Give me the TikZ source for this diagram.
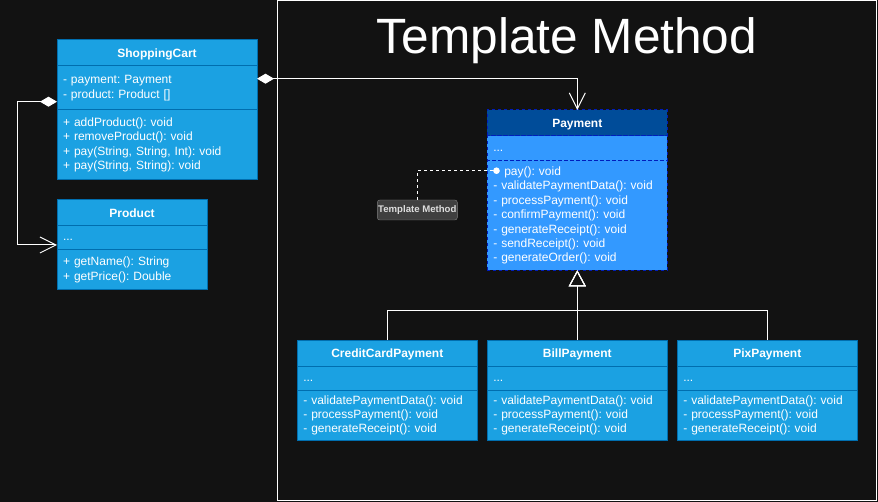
\documentclass[tikz,border=0pt]{standalone}
\usepackage{fontspec}
\setmainfont{Liberation Sans}
\usetikzlibrary{positioning,arrows.meta}
\frenchspacing

\definecolor{bgdark}{HTML}{121212}
\definecolor{umlblue}{HTML}{1BA1E2}
\definecolor{umlline}{HTML}{006EAF}
\definecolor{payhead}{HTML}{004C99}
\definecolor{paybody}{HTML}{3399FF}
\definecolor{payline}{HTML}{001DBC}
\definecolor{notefill}{HTML}{404040}
\definecolor{noteline}{HTML}{808080}
\definecolor{notetext}{HTML}{DDDDDD}

\tikzset{
  umlhead/.style={draw=umlline, fill=umlblue, text=white, line width=1pt,
    font=\fontsize{12}{14.4}\selectfont\bfseries, inner sep=0pt, outer sep=0pt,
    minimum height=26pt, text height=8.6pt, text depth=0pt},
  umlpart/.style={draw=umlline, fill=umlblue, text=white, line width=1pt,
    font=\fontsize{12}{14.4}\selectfont, align=left, inner xsep=6pt,
    inner ysep=0pt, outer sep=0pt},
  abshead/.style={umlhead, draw=payline, fill=payhead, dashed},
  abspart/.style={umlpart, draw=payline, fill=paybody, dashed},
  notebox/.style={draw=noteline, fill=notefill, text=notetext, rounded corners=2.5pt,
    font=\fontsize{9.6}{10}\selectfont\bfseries, minimum width=80pt,
    minimum height=20pt, inner sep=0pt},
  link/.style={draw=white, line width=1pt},
  aggr/.style={link, {Diamond[length=17pt,width=10pt]}-{Straight Barb[length=16pt,width=16pt]}},
  inherit/.style={link, -{Triangle[open,length=16pt,width=17pt]}},
  hint/.style={link, dash pattern=on 3pt off 3pt, -{Circle[length=6.5pt]}}
}

\begin{document}
\begin{tikzpicture}[x=1pt, y=-1pt]
  \fill[bgdark] (0,0) rectangle (878,502);
  \useasboundingbox (0,0) rectangle (878,502);
  \draw[white, line width=1pt] (277.2,1) rectangle (876,500);
  \node (title) [text=white, font=\fontsize{49.6}{50}\selectfont, anchor=base] at (567,53.3) {Template Method};

  % client side
  \node (cart) [umlhead, minimum width=200pt, anchor=north west] at (57,40) {ShoppingCart};
  \node (cartAttr) [umlpart, text width=188pt, minimum height=44pt, below=0pt of cart]
    {- payment: Payment\\- product: Product []};
  \node (cartMeth) [umlpart, text width=188pt, minimum height=70pt, below=0pt of cartAttr]
    {+ addProduct(): void\\+ removeProduct(): void\\+ pay(String, String, Int): void\\+ pay(String, String): void};

  \node (prod) [umlhead, minimum width=150pt, anchor=north west] at (57,200) {Product};
  \node (prodAttr) [umlpart, text width=138pt, minimum height=24pt, below=0pt of prod] {\strut...};
  \node (prodMeth) [umlpart, text width=138pt, minimum height=40pt, below=0pt of prodAttr]
    {+ getName(): String\\+ getPrice(): Double};

  % abstract class
  \node (pay) [abshead, minimum width=180pt, anchor=north west] at (487.3,110) {Payment};
  \node (payAttr) [abspart, text width=168pt, minimum height=24.7pt, below=0pt of pay] {\strut...};
  \node (payMeth) [abspart, text width=168pt, minimum height=109.6pt, below=0pt of payAttr]
    {+ pay(): void\\- validatePaymentData(): void\\- processPayment(): void\\- confirmPayment(): void\\- generateReceipt(): void\\- sendReceipt(): void\\- generateOrder(): void};

  % concrete classes
  \node (credit) [umlhead, minimum width=180pt, anchor=north west] at (297.3,340.3) {CreditCardPayment};
  \node (creditAttr) [umlpart, text width=168pt, minimum height=24pt, below=0pt of credit] {\strut...};
  \node (creditMeth) [umlpart, text width=168pt, minimum height=50pt, below=0pt of creditAttr]
    {- validatePaymentData(): void\\- processPayment(): void\\- generateReceipt(): void};

  \node (bill) [umlhead, minimum width=180pt, anchor=north west] at (487.3,340.3) {BillPayment};
  \node (billAttr) [umlpart, text width=168pt, minimum height=24pt, below=0pt of bill] {\strut...};
  \node (billMeth) [umlpart, text width=168pt, minimum height=50pt, below=0pt of billAttr]
    {- validatePaymentData(): void\\- processPayment(): void\\- generateReceipt(): void};

  \node (pix) [umlhead, minimum width=180pt, anchor=north west] at (677.3,340.3) {PixPayment};
  \node (pixAttr) [umlpart, text width=168pt, minimum height=24pt, below=0pt of pix] {\strut...};
  \node (pixMeth) [umlpart, text width=168pt, minimum height=50pt, below=0pt of pixAttr]
    {- validatePaymentData(): void\\- processPayment(): void\\- generateReceipt(): void};

  \node (note) [notebox] at (417.3,210) {Template Method};

  % connectors
  \coordinate (bus) at (577.3,310.3);
  \draw[aggr] ([yshift=9.3pt]cartAttr.east) -| (pay.north);
  \draw[aggr] ([yshift=-13.7pt]cartAttr.west) -- ++(-40,0) |- ([yshift=-7pt]prodAttr.west);
  \draw[inherit] (credit.north) |- (bus) -- (payMeth.south);
  \draw[inherit] (pix.north) |- (bus) -- (payMeth.south);
  \draw[inherit] (bill.north) -- (payMeth.south);
  \draw[hint] (note.north) |- ([xshift=12.4pt,yshift=-10pt]payMeth.north west);
\end{tikzpicture}
\end{document}
